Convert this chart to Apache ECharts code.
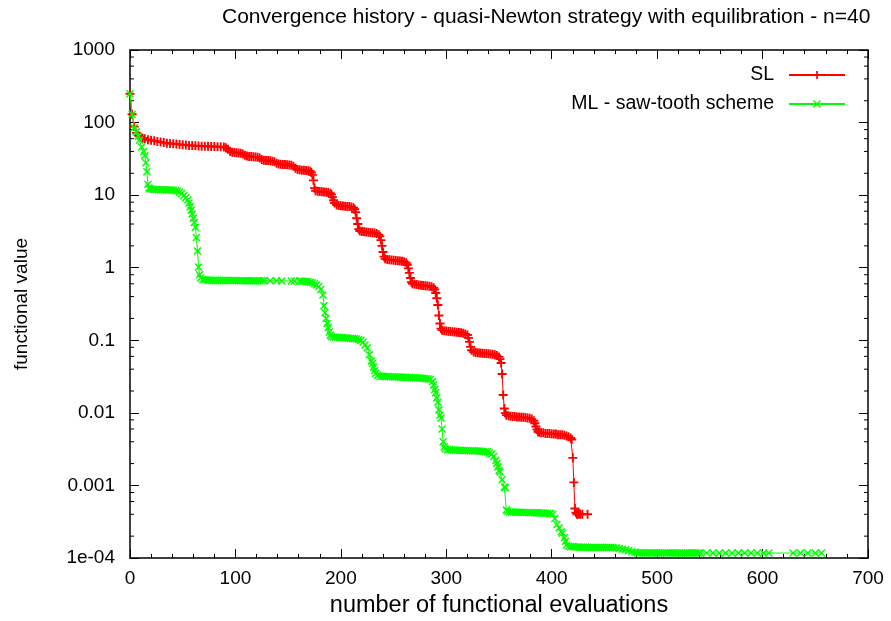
<!DOCTYPE html>
<html>
<head>
<meta charset="utf-8">
<script src="https://cdn.jsdelivr.net/npm/echarts@6/dist/echarts.min.js"></script>
<style>
html,body{margin:0;padding:0;background:#fff;}
#chart{width:891px;height:621px;}
</style>
</head>
<body>
<div id="chart"></div>
<script>
// ---- data ----
const titleText = 'Convergence history - quasi-Newton strategy with equilibration - n=40';
const xName = 'number of functional evaluations';
const yName = 'functional value';
const seriesNames = ['SL', 'ML - saw-tooth scheme'];
const xMin = 0, xMax = 700, xStep = 100;
const yMin = 1e-4, yMax = 1000;
const yTickLabels = ['1e-04', '0.001', '0.01', '0.1', '1', '10', '100', '1000'];
const yMinorTicks = [2e-4,4e-4,6e-4,8e-4, 0.002,0.004,0.006,0.008, 0.02,0.04,0.06,0.08, 0.2,0.4,0.6,0.8, 2,4,6,8, 20,40,60,80, 200,400,600,800];

const sl = [
[0,250],[2,130],[4,88],[6,72],[8,66],[10,63],[12,61],[14,60],[17,58],[20,57],[23,56],[26,55],[29,54],[32,53],[35,52],[38,51.5],[41,51],[44,50.5],[47,50],[50,49.5],[53,49],[56,48.5],[59,48.2],[62,48],[65,47.6],[68,47.3],[71,47.1],[74,47],[77,46.9],[80,46.8],[83,46.6],[86,46.4],[89,46],[91,45],[93,43],[95,40],[97,39],[99,38.6],[101,38.4],[103,38.2],[105,37.8],[107,37],[109,35.5],[111,34.6],[113,34.2],[115,34],[117,33.8],[119,33.6],[121,33.3],[123,32.5],[125,31],[127,30.3],[129,30.1],[131,29.9],[133,29.7],[135,29.4],[137,28.8],[139,27.5],[141,26.8],[143,26.6],[145,26.5],[147,26.4],[149,26.3],[151,26.1],[153,25.8],[155,25],[157,23.5],[159,22.6],[161,22.3],[163,22.1],[165,22],[167,21.9],[169,21.7],[171,21.3],[172,20.5],[173,19],[174,16],[175,12.5],[176,11.5],[178,11.3],[180,11.2],[182,11.1],[184,11.05],[186,11],[188,10.9],[190,10.6],[191,10.2],[192,9.4],[193,8.5],[194,7.8],[196,7.3],[198,7.2],[200,7.15],[202,7.1],[204,7.05],[206,7],[208,6.95],[210,6.85],[212,6.7],[213,6.4],[214,5.8],[215,4.8],[216,4],[217,3.4],[218,3.2],[220,3.15],[222,3.12],[224,3.1],[226,3.08],[228,3.06],[230,3.03],[232,3],[234,2.95],[236,2.85],[237,2.7],[238,2.4],[239,2],[240,1.65],[241,1.42],[242,1.33],[244,1.3],[246,1.29],[248,1.28],[250,1.27],[252,1.26],[254,1.25],[256,1.24],[258,1.23],[260,1.21],[262,1.17],[263,1.1],[264,0.98],[265,0.85],[266,0.72],[267,0.63],[268,0.6],[270,0.59],[272,0.585],[274,0.58],[276,0.575],[278,0.57],[280,0.565],[282,0.56],[284,0.555],[286,0.545],[288,0.53],[289,0.5],[290,0.449],[291,0.38],[292,0.306],[293,0.22],[294,0.17],[295,0.145],[296,0.138],[298,0.135],[300,0.134],[302,0.133],[304,0.132],[306,0.131],[308,0.13],[310,0.129],[312,0.128],[314,0.127],[316,0.125],[318,0.122],[320,0.118],[321,0.108],[322,0.095],[323,0.081],[324,0.073],[326,0.069],[328,0.068],[330,0.0675],[332,0.067],[334,0.0665],[336,0.066],[338,0.0655],[340,0.065],[342,0.0645],[344,0.064],[346,0.063],[348,0.0615],[350,0.059],[351,0.055],[352,0.0487],[353,0.0343],[354,0.0176],[355,0.0115],[356,0.0099],[357,0.0093],[359,0.0091],[361,0.009],[363,0.0089],[365,0.0089],[367,0.0088],[369,0.0088],[371,0.0087],[373,0.0087],[375,0.0086],[377,0.0085],[379,0.0084],[381,0.0082],[383,0.0078],[384,0.0072],[385,0.0065],[386,0.0059],[387,0.0055],[388,0.0054],[390,0.0053],[392,0.0053],[394,0.0052],[396,0.0052],[398,0.0052],[400,0.0051],[402,0.0051],[404,0.0051],[406,0.005],[408,0.005],[410,0.005],[412,0.0049],[414,0.0048],[416,0.0047],[418,0.0045],[419,0.0043],[420,0.0024],[421,0.0011],[422,0.00048],[423,0.00042],[424,0.0004],[425,0.0004],[426,0.00041],[427,0.0004],[429,0.0004],[434,0.0004]
];

const ml = [
[0,250],[2,130],[4,85],[6,75],[8,65],[9,57],[11,46],[13,40],[14,35],[15,28],[16,21],[17,14],[18,12.5],[19,12.2],[21,12.1],[23,12],[25,12],[27,11.95],[29,11.9],[31,11.9],[33,11.85],[35,11.8],[37,11.8],[39,11.75],[41,11.7],[43,11.6],[45,11.4],[47,11],[49,10.5],[51,9.8],[53,9.2],[55,8.6],[56,7.8],[57,6.9],[58,6.2],[59,5.5],[60,4.8],[61,4.2],[62,3.6],[63,2.6],[64,1.7],[65,1.02],[66,0.8],[67,0.72],[69,0.69],[71,0.68],[73,0.675],[75,0.67],[77,0.67],[79,0.668],[81,0.668],[83,0.667],[85,0.667],[87,0.666],[89,0.666],[91,0.665],[93,0.665],[95,0.665],[97,0.664],[99,0.664],[101,0.664],[103,0.663],[105,0.663],[107,0.663],[109,0.662],[111,0.662],[113,0.662],[115,0.661],[117,0.661],[119,0.661],[121,0.66],[123,0.66],[125,0.66],[127,0.66],[133,0.66],[139,0.66],[144,0.658],[153,0.657],[156,0.655],[161,0.655],[163,0.65],[165,0.65],[167,0.645],[169,0.64],[171,0.63],[173,0.62],[175,0.6],[177,0.58],[179,0.55],[181,0.5],[183,0.42],[184,0.3],[185,0.24],[186,0.2],[187,0.17],[188,0.15],[189,0.13],[190,0.118],[191,0.113],[193,0.111],[195,0.11],[197,0.11],[199,0.109],[201,0.109],[203,0.108],[205,0.108],[207,0.107],[209,0.107],[211,0.106],[213,0.105],[215,0.104],[217,0.102],[219,0.099],[221,0.094],[223,0.086],[225,0.078],[227,0.063],[229,0.052],[230,0.048],[231,0.043],[232,0.038],[233,0.035],[235,0.033],[237,0.032],[239,0.032],[241,0.0318],[243,0.0317],[245,0.0316],[247,0.0315],[249,0.0314],[251,0.0313],[253,0.0312],[255,0.0311],[257,0.031],[259,0.031],[261,0.0309],[263,0.0308],[265,0.0307],[267,0.0306],[269,0.0305],[271,0.0304],[273,0.0303],[275,0.0302],[277,0.03],[279,0.0298],[281,0.0296],[283,0.0293],[285,0.029],[287,0.027],[288,0.024],[289,0.021],[290,0.019],[291,0.016],[292,0.014],[293,0.011],[294,0.0093],[295,0.0085],[296,0.006],[297,0.004],[298,0.0034],[299,0.0032],[301,0.0031],[303,0.00309],[305,0.00308],[307,0.00307],[309,0.00306],[311,0.00305],[313,0.00305],[315,0.00304],[317,0.00303],[319,0.00302],[321,0.00301],[323,0.003],[325,0.003],[327,0.00299],[329,0.00298],[331,0.00297],[333,0.00296],[335,0.00294],[337,0.00292],[339,0.0029],[341,0.0028],[343,0.0027],[345,0.0025],[347,0.0022],[348,0.002],[349,0.0018],[350,0.0016],[351,0.00153],[353,0.0012],[355,0.00095],[356,0.00093],[357,0.00046],[358,0.00044],[360,0.00043],[362,0.00043],[364,0.000429],[366,0.000428],[368,0.000427],[370,0.000426],[372,0.000425],[374,0.000424],[376,0.000423],[378,0.000422],[380,0.000421],[382,0.00042],[384,0.00042],[386,0.000419],[388,0.000418],[390,0.000417],[392,0.000416],[394,0.000415],[396,0.000413],[398,0.000411],[399,0.00041],[401,0.0004],[403,0.00035],[405,0.00029],[407,0.00026],[409,0.00023],[410,0.00022],[412,0.00019],[413,0.00017],[414,0.00015],[416,0.000145],[418,0.000143],[420,0.000143],[422,0.000142],[424,0.000142],[426,0.000142],[428,0.000141],[430,0.000141],[432,0.000141],[434,0.000141],[436,0.00014],[438,0.00014],[440,0.00014],[442,0.00014],[444,0.00014],[446,0.00014],[448,0.00014],[450,0.00014],[452,0.00014],[454,0.00014],[456,0.00014],[458,0.00014],[461,0.000138],[464,0.000135],[467,0.000132],[470,0.00013],[473,0.000126],[476,0.000122],[479,0.00012],[481,0.000118],[483,0.000118],[485,0.000118],[487,0.000118],[489,0.000118],[491,0.000118],[493,0.000118],[495,0.000117],[497,0.000117],[499,0.000117],[501,0.000117],[503,0.000117],[505,0.000117],[507,0.000117],[509,0.000117],[511,0.000117],[513,0.000117],[515,0.000117],[517,0.000117],[519,0.000117],[521,0.000117],[523,0.000117],[525,0.000117],[527,0.000117],[529,0.000117],[531,0.000117],[533,0.000117],[535,0.000117],[537,0.000117],[539,0.000117],[541,0.000117],[547,0.000117],[553,0.000117],[559,0.000117],[565,0.000117],[571,0.000117],[577,0.000117],[583,0.000117],[589,0.000117],[595,0.000117],[601,0.000117],[606,0.000117],[629,0.000117],[636,0.000117],[643,0.000117],[650,0.000117],[656,0.000117]
];

// ---- chart ----
const FONT = '"Liberation Sans", Arial, Helvetica, sans-serif';
const plusPath = 'path://M3.95,0H6.05V3.95H10V6.05H6.05V10H3.95V6.05H0V3.95H3.95Z';
const crossPath = 'path://M0,1.3L1.3,0L5,3.7L8.7,0L10,1.3L6.3,5L10,8.7L8.7,10L5,6.3L1.3,10L0,8.7L3.7,5Z';

const chart = echarts.init(document.getElementById('chart'), null, {renderer: 'canvas'});

function yLabel(v) {
  const e = Math.round(Math.log10(v));
  return yTickLabels[e + 4] !== undefined ? yTickLabels[e + 4] : '';
}

const axisLineStyle = {color: '#000', width: 1.5};
const tickStyle = {color: '#000', width: 1};

chart.setOption({
  animation: false,
  backgroundColor: '#fff',
  textStyle: {fontFamily: FONT},
  title: {
    text: titleText,
    left: 217, top: 2,
    textStyle: {fontFamily: FONT, fontSize: 21, fontWeight: 'normal', color: '#000'}
  },
  legend: {
    data: seriesNames,
    orient: 'vertical',
    right: 40, top: 60,
    align: 'right',
    itemWidth: 56, itemHeight: 10, itemGap: 9,
    textStyle: {fontFamily: FONT, fontSize: 19.5, color: '#000', padding: [0, 10, 0, 0]},
    selectedMode: false
  },
  grid: {left: 130, right: 23, top: 50, bottom: 63, containLabel: false, outerBoundsMode: 'none'},
  xAxis: [{
    type: 'value', min: xMin, max: xMax, interval: xStep, position: 'bottom',
    name: xName, nameLocation: 'middle', nameGap: 36,
    nameTextStyle: {fontFamily: FONT, fontSize: 23.5, color: '#000'},
    axisLine: {show: true, onZero: false, lineStyle: axisLineStyle},
    axisTick: {show: true, inside: true, length: 9, lineStyle: tickStyle},
    minorTick: {show: true, splitNumber: 5, length: 4, lineStyle: tickStyle},
    axisLabel: {fontFamily: FONT, fontSize: 19, color: '#000', margin: 11},
    splitLine: {show: false}
  }, {
    type: 'value', min: xMin, max: xMax, interval: xStep, position: 'top',
    axisLine: {show: true, onZero: false, lineStyle: axisLineStyle},
    axisTick: {show: true, inside: true, length: 9, lineStyle: tickStyle},
    minorTick: {show: true, splitNumber: 5, length: 4, lineStyle: tickStyle},
    axisLabel: {show: false},
    splitLine: {show: false}
  }],
  yAxis: [{
    type: 'log', logBase: 10, min: yMin, max: yMax, splitNumber: 7, position: 'left',
    name: yName, nameLocation: 'middle', nameGap: 99, nameRotate: 90,
    nameTextStyle: {fontFamily: FONT, fontSize: 19, color: '#000'},
    axisLine: {show: true, onZero: false, lineStyle: axisLineStyle},
    axisTick: {show: true, inside: true, length: 9, lineStyle: tickStyle},
    axisLabel: {fontFamily: FONT, fontSize: 19, color: '#000', margin: 15, formatter: yLabel},
    splitLine: {show: false}
  }, {
    type: 'log', logBase: 10, min: yMin, max: yMax, splitNumber: 7, position: 'right',
    axisLine: {show: true, onZero: false, lineStyle: axisLineStyle},
    axisTick: {show: true, inside: true, length: 9, lineStyle: tickStyle},
    axisLabel: {show: false},
    splitLine: {show: false}
  }],
  series: [{
    name: seriesNames[0], type: 'line', data: sl,
    xAxisIndex: 0, yAxisIndex: 0,
    symbol: plusPath, symbolSize: 9, showSymbol: true,
    lineStyle: {color: '#ff0000', width: 1},
    itemStyle: {color: '#ff0000', borderColor: '#ff0000', borderWidth: 0, opacity: 1},
    emphasis: {disabled: true}, z: 3
  }, {
    name: seriesNames[1], type: 'line', data: ml,
    xAxisIndex: 0, yAxisIndex: 0,
    symbol: crossPath, symbolSize: 8, showSymbol: true,
    lineStyle: {color: '#00ff00', width: 1},
    itemStyle: {color: '#00ff00', borderColor: '#00ff00', borderWidth: 0, opacity: 1},
    emphasis: {disabled: true}, z: 4
  }, {
    name: 'minorTicks', type: 'custom', silent: true,
    xAxisIndex: 0, yAxisIndex: 0,
    data: yMinorTicks.map(v => [xMin, v]),
    encode: {x: 0, y: 1},
    renderItem: function (params, api) {
      const v = api.value(1);
      const a = api.coord([xMin, v]);
      const b = api.coord([xMax, v]);
      return {
        type: 'group',
        children: [
          {type: 'line', shape: {x1: a[0], y1: a[1], x2: a[0] + 4, y2: a[1]}, style: {stroke: '#000', lineWidth: 1}},
          {type: 'line', shape: {x1: b[0] - 4, y1: b[1], x2: b[0], y2: b[1]}, style: {stroke: '#000', lineWidth: 1}}
        ]
      };
    },
    z: 2
  }]
});
</script>
</body>
</html>
